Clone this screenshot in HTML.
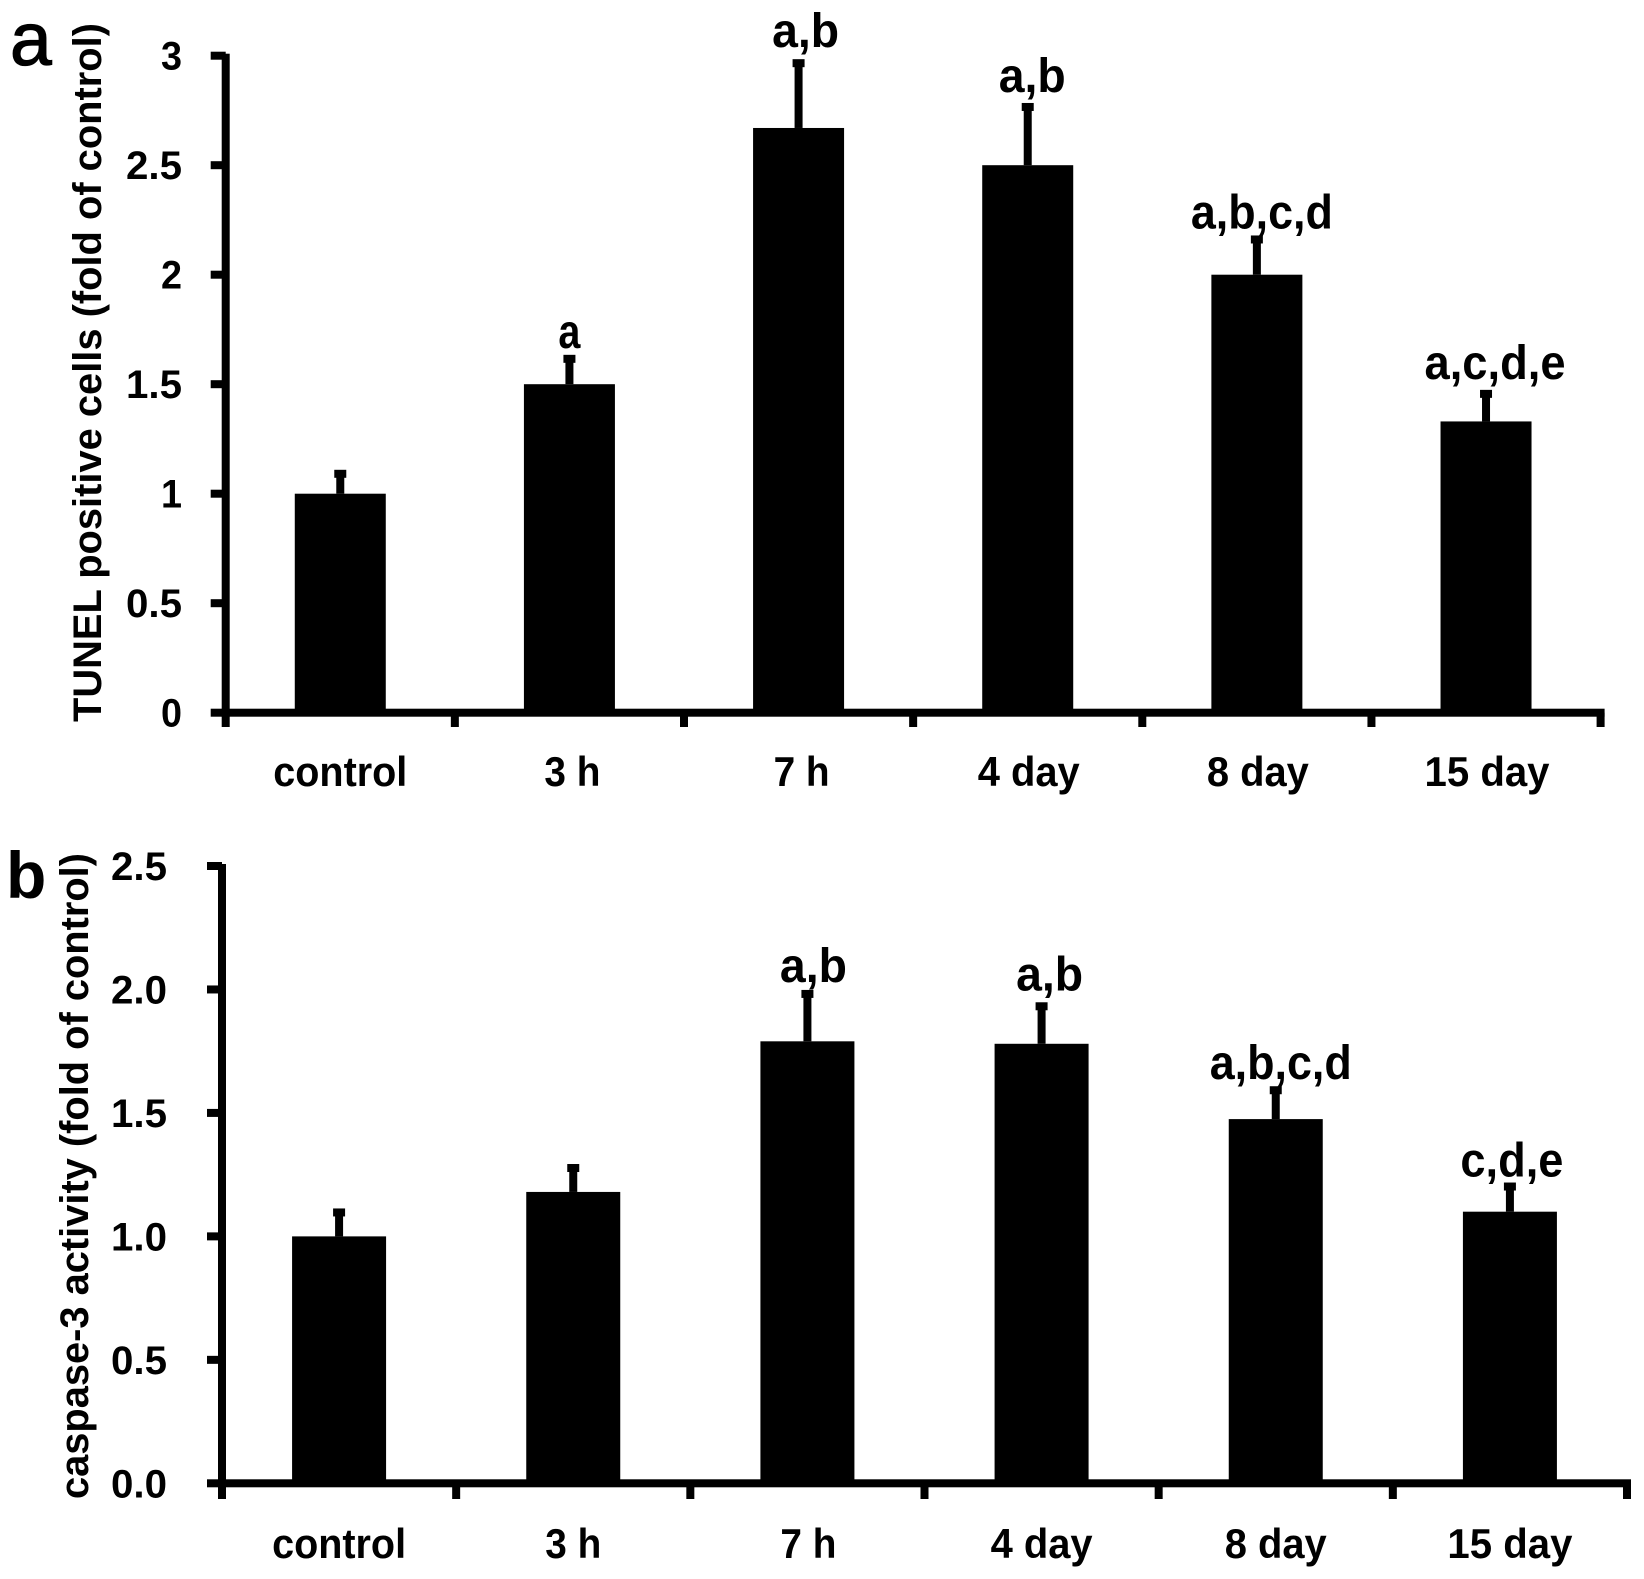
<!DOCTYPE html>
<html lang="en">
<head>
<meta charset="utf-8">
<title>TUNEL and caspase-3 bar charts</title>
<style>
html,body{margin:0;padding:0;background:#fff;width:1644px;height:1579px;overflow:hidden}
svg{display:block}
text{font-family:"Liberation Sans",sans-serif;font-weight:bold;fill:#000}
</style>
</head>
<body>
<svg id="figure" xmlns="http://www.w3.org/2000/svg" width="1644" height="1579" viewBox="0 0 1644 1579">
<rect x="0" y="0" width="1644" height="1579" fill="#fff"/>
<g id="panel-a"></g>
<g id="panel-b"></g>
</svg>
<script>
// Shared categories
const categories = ['control', '3 h', '7 h', '4 day', '8 day', '15 day'];

// Panel a data
const aValues = [1.0, 1.5, 2.67, 2.5, 2.0, 1.33];
const aErrors = [0.10, 0.125, 0.305, 0.275, 0.17, 0.135];
const aLetters = ['', 'a', 'a,b', 'a,b', 'a,b,c,d', 'a,c,d,e'];
const aTicks = [0, 0.5, 1, 1.5, 2, 2.5, 3];
const aTickLabels = ['0', '0.5', '1', '1.5', '2', '2.5', '3'];

// Panel b data
const bValues = [1.0, 1.18, 1.79, 1.78, 1.475, 1.10];
const bErrors = [0.105, 0.105, 0.20, 0.16, 0.125, 0.11];
const bLetters = ['', '', 'a,b', 'a,b', 'a,b,c,d', 'c,d,e'];
const bTicks = [0, 0.5, 1, 1.5, 2, 2.5];
const bTickLabels = ['0.0', '0.5', '1.0', '1.5', '2.0', '2.5'];

const SVG_NS = 'http://www.w3.org/2000/svg';

function addRect(parent, x, y, w, h, name) {
  const el = document.createElementNS(SVG_NS, 'rect');
  el.setAttribute('x', x);
  el.setAttribute('y', y);
  el.setAttribute('width', w);
  el.setAttribute('height', Math.max(h, 0));
  el.setAttribute('fill', '#000');
  
  
  parent.appendChild(el);
  return el;
}

function addText(parent, str, x, y, size, anchor, name) {
  const el = document.createElementNS(SVG_NS, 'text');
  el.setAttribute('x', x);
  el.setAttribute('y', y);
  el.setAttribute('font-size', size);
  el.setAttribute('text-anchor', anchor);
  el.textContent = str;
  
  
  parent.appendChild(el);
  return el;
}

function drawPanel(cfg) {
  const g = document.getElementById(cfg.id);
  const yScale = v => cfg.y0 - (v / cfg.yMax) * (cfg.y0 - cfg.yTop);
  const band = (cfg.xEnd - cfg.x0) / categories.length;
  const xScale = i => cfg.x0 + band * (i + 0.5);

  // y axis
  addRect(g, cfg.x0 - 4, cfg.yTop - 2, 8, cfg.y0 - cfg.yTop + 6, 'y-axis-line');
  cfg.ticks.forEach((t, i) => {
    const y = yScale(t);
    addRect(g, cfg.x0 - 15, y - 4, 15, 8, 'y-tick');
    const el = addText(g, cfg.tickLabels[i], cfg.tickRight, y + 14, 40, 'end', 'y-tick-label');
    el.setAttribute('textLength', cfg.tickLabels[i].length === 1 ? 21 : 56);
    el.setAttribute('lengthAdjust', 'spacingAndGlyphs');
  });

  // x axis
  addRect(g, cfg.x0 - 4, cfg.y0 - 4, cfg.xEnd - cfg.x0 + 8, 8, 'x-axis-line');
  for (let i = 0; i <= categories.length; i++) {
    addRect(g, cfg.x0 + band * i - 4, cfg.y0, 8, cfg.tickBottom - cfg.y0, 'x-tick');
  }

  // bars, error bars, labels
  categories.forEach((c, i) => {
    const cx = xScale(i);
    const top = yScale(cfg.values[i]);
    const errTop = yScale(cfg.values[i] + cfg.errors[i]);
    addRect(g, cx - cfg.barWidth / 2, top, cfg.barWidth, cfg.y0 - top, 'bar-' + c.replace(' ', '-'));
    addRect(g, cx - 4, errTop, 8, top - errTop, 'error-stem-' + c.replace(' ', '-'));
    addRect(g, cx - 6, errTop - 2, 12, 8, 'error-cap-' + c.replace(' ', '-'));
    const lab = addText(g, c, cx + cfg.labelDx[i], cfg.labelBase, 42, 'middle', 'x-label-' + c.replace(' ', '-'));
    lab.setAttribute('textLength', cfg.labelWidths[i]);
    lab.setAttribute('lengthAdjust', 'spacingAndGlyphs');
    if (cfg.letters[i]) {
      const ann = addText(g, cfg.letters[i], cx + cfg.letterDx[i], errTop - cfg.letterGap[i], 48, 'middle', 'significance-' + c.replace(' ', '-'));
      ann.setAttribute('textLength', cfg.letterWidths[i]);
      ann.setAttribute('lengthAdjust', 'spacingAndGlyphs');
    }
  });

  // y title
  const title = addText(g, cfg.title, 0, 0, 40, 'start', 'y-axis-title');
  title.setAttribute('transform', 'translate(' + cfg.titleX + ',' + cfg.titleY + ') rotate(-90)');
  title.setAttribute('textLength', cfg.titleLength);
  title.setAttribute('lengthAdjust', 'spacingAndGlyphs');

  // panel letter
  const p = addText(g, cfg.panelLetter, cfg.letterX, cfg.letterY, cfg.letterSize, 'start', 'panel-label');
  p.style.fontWeight = cfg.letterWeight;
  p.style.stroke = '#000';
  p.style.strokeWidth = cfg.letterStroke;
}

drawPanel({
  id: 'panel-a', values: aValues, errors: aErrors, letters: aLetters,
  ticks: aTicks, tickLabels: aTickLabels, yMax: 3,
  x0: 225.7, xEnd: 1600.6, y0: 712.7, yTop: 55.7, tickBottom: 727, tickRight: 182,
  barWidth: 91, labelBase: 786,
  labelDx: [0, 3, 3, 1, 1, 1],
  labelWidths: [134, 56, 56, 102, 102, 125],
  letterDx: [0, 0, 7, 4.5, 5, 9], letterGap: [0, 9, 14, 13, 9, 13],
  letterWidths: [0, 22, 67, 67, 142, 141],
  title: 'TUNEL  positive cells (fold of control)', titleX: 101, titleY: 722, titleLength: 699,
  panelLetter: 'a', letterX: 10, letterY: 65, letterSize: 75, letterWeight: 'normal', letterStroke: '1.2px'
});

drawPanel({
  id: 'panel-b', values: bValues, errors: bErrors, letters: bLetters,
  ticks: bTicks, tickLabels: bTickLabels, yMax: 2.5,
  x0: 222, xEnd: 1627, y0: 1483.3, yTop: 866, tickBottom: 1499, tickRight: 167,
  barWidth: 94, labelBase: 1558,
  labelDx: [0, 0, 1, 0, 0, 0],
  labelWidths: [134, 56, 56, 102, 102, 125],
  letterDx: [0, 0, 6, 8, 5, 2], letterGap: [0, 0, 10, 14, 9, 8],
  letterWidths: [0, 0, 67, 67, 142, 103],
  title: 'caspase-3 activity (fold of control)', titleX: 88, titleY: 1499, titleLength: 646,
  panelLetter: 'b', letterX: 6, letterY: 898, letterSize: 66, letterWeight: 'bold', letterStroke: '0'
});
</script>
</body>
</html>
